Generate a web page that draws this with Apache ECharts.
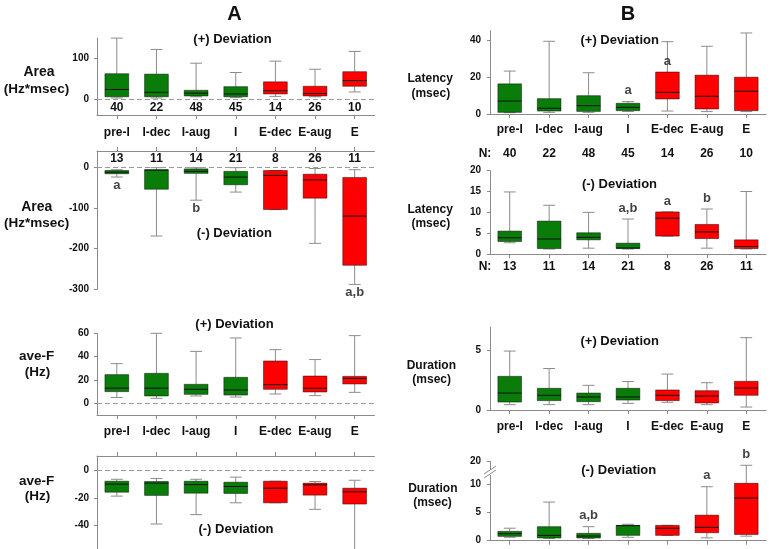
<!DOCTYPE html>
<html lang="en">
<head>
<meta charset="UTF-8">
<title>Deviation box plots</title>
<style>
  body { margin: 0; background: #fff; }
  #main { width: 771px; height: 549px; }
</style>
<script src="https://cdn.jsdelivr.net/npm/echarts@6.0.0/dist/echarts.min.js"></script>
</head>
<body>
<div id="main"></div>
<script>
var categories = ['pre-I', 'I-dec', 'I-aug', 'I', 'E-dec', 'E-aug', 'E'];
var nPos = [40, 22, 48, 45, 14, 26, 10];
var nNeg = [13, 11, 14, 21, 8, 26, 11];

// each row: [min, q1, median, q3, max]
var areaPos = [[2, 5, 23, 62, 150], [2, 5, 16, 61, 122], [5, 7, 14, 21, 88], [3, 5, 12, 30, 65],
               [6, 12, 20, 42, 93], [5, 7, 13, 31, 73], [17, 31, 45, 67, 117]];
var areaNeg = [[-24, -16, -12, -8, -6], [-169, -54, -7, -6, -1], [-81, -15, -10, -4, -1], [-61, -43, -24, -10, -1],
               [-104, -104, -20, -8, -8], [-187, -76, -31, -17, -3], [-288, -241, -120, -25, -6]];
var freqPos = [[5, 10, 13, 24.6, 34], [4.3, 6.3, 13, 25.7, 60], [6.3, 7.7, 12, 16.3, 44.5], [5.4, 7.1, 11.4, 22.3, 56],
               [8, 12, 16, 36.3, 46], [6.6, 9.7, 12.9, 23.4, 37.5], [9.4, 16.6, 21.4, 23.1, 58]];
var freqNeg = [[-18.8, -16, -10.2, -8.1, -6.7], [-38.8, -18.3, -9.5, -8.3, -6.2], [-32.1, -16.7, -10.5, -8.1, -6.7], [-23.6, -16.9, -11.9, -8.8, -5.2],
               [-23.6, -23.6, -13.1, -8.1, -8.1], [-28.3, -18.1, -10.7, -9.5, -8.3], [-58, -24.5, -15.7, -13.1, -7.4]];
var latPos = [[0.7, 0.9, 7, 16.3, 23.2], [0.9, 1.6, 3.1, 8.3, 39.3], [0.9, 1.4, 4.5, 9.9, 22.3], [1.4, 1.8, 3.6, 5.8, 6.7],
              [1.6, 8.1, 11.7, 22.7, 39.1], [1.3, 2.7, 9.6, 21, 36.6], [1.3, 1.8, 12.3, 19.9, 43.8]];
var latNeg = [[2.7, 3, 3.9, 5.5, 14.9], [1.2, 1.3, 3.6, 7.9, 11.7], [1.4, 3.4, 4, 5.1, 10], [1.2, 1.3, 1.45, 2.6, 8.4],
              [4.3, 4.3, 8.6, 10.1, 10.1], [1.4, 3.7, 5.3, 7.1, 10.8], [1.2, 1.3, 1.8, 3.4, 15]];
var durPos = [[0.45, 0.67, 1.43, 2.84, 4.97], [0.45, 0.79, 1.24, 1.83, 3.5], [0.45, 0.7, 1.1, 1.43, 2.08], [0.56, 0.84, 1.1, 1.83, 2.4],
              [0.65, 0.79, 1.24, 1.69, 3.03], [0.45, 0.59, 1.18, 1.63, 2.3], [0.25, 1.24, 1.85, 2.42, 6.1]];
var durNeg = [[0.6, 0.76, 1.24, 1.65, 2.2], [0.4, 0.47, 0.94, 2.47, 6.8], [0.4, 0.47, 0.82, 1.3, 2.47], [0.6, 0.94, 2.65, 2.7, 2.9],
              [0.94, 0.94, 2.2, 2.7, 2.7], [0.5, 1.4, 2.35, 4.5, 9.5], [0.8, 1.1, 7.5, 10.1, 19.3]];

// significance letters: [category, text, where]
var sigAreaNeg = [['pre-I', 'a', 'low'], ['I-aug', 'b', 'low'], ['E', 'a,b', 'low']];
var sigLatPos = [['I', 'a', 'high'], ['E-dec', 'a', 'q3']];
var sigLatNeg = [['I', 'a,b', 'high'], ['E-dec', 'a', 'q3'], ['E-aug', 'b', 'high']];
var sigDurNeg = [['I-aug', 'a,b', 'high'], ['E-aug', 'a', 'high'], ['E', 'b', 'high']];

var FONT = '"Liberation Sans", Arial, sans-serif';
var GREEN = '#0a7c0a', RED = '#ff0000', AXIS = '#8a8a8a';

var panels = [
  {data: areaPos, left: 97, top: 38.1, width: 277.5, height: 76.9, min: -40, max: 150, ticks: [0, 100], pos: 'bottom', zero: true,
   xlab: 'cat', margin: 12, extra: {arr: nPos, inside: true, margin: 1, offset: 0}},
  {data: areaNeg, left: 97, top: 151, width: 277.5, height: 138.3, min: -300, max: 40, ticks: [0, -100, -200, -300], pos: 'top', zero: true,
   xlab: nNeg, inside: true, margin: 2, sig: sigAreaNeg},
  {data: freqPos, left: 97, top: 333.3, width: 277.5, height: 81.7, min: -10, max: 60, ticks: [0, 20, 40, 60], pos: 'bottom', zero: true,
   xlab: 'cat', margin: 11},
  {data: freqNeg, left: 97, top: 456, width: 277.5, height: 97.5, min: -60, max: 10, ticks: [0, -20, -40], pos: 'top', zero: true},
  {data: latPos, left: 490, top: 30.75, width: 276, height: 83.25, min: 0, max: 45, ticks: [0, 20, 40], pos: 'bottom',
   xlab: 'cat', margin: 10, extra: {arr: nPos, inside: false, margin: 10, offset: 24}, sig: sigLatPos},
  {data: latNeg, left: 490, top: 170.7, width: 276, height: 83.3, min: 0, max: 20, ticks: [0, 5, 10, 15, 20], pos: 'bottom',
   xlab: nNeg, margin: 7, sig: sigLatNeg},
  {data: durPos, left: 490, top: 327, width: 276, height: 83, min: 0, max: 7, ticks: [0, 5], pos: 'bottom',
   xlab: 'cat', margin: 10.5},
  {data: durNeg, left: 490, top: 461.3, width: 276, height: 79.4, min: 0, max: 20, ticks: [0, 5, 10, 20], pos: 'bottom',
   sig: sigDurNeg, breaks: [{start: 11.5, end: 18.5, gap: '7%'}]}
];

function renderBox(params, api) {
  var x = api.value(0);
  var lo = api.coord([x, api.value(1)]);
  var q1 = api.coord([x, api.value(2)]);
  var md = api.coord([x, api.value(3)]);
  var q3 = api.coord([x, api.value(4)]);
  var hi = api.coord([x, api.value(5)]);
  var band = api.size([1, 0])[0];
  var bw = band * 0.6, cw = band * 0.3, cx = lo[0];
  var whisk = {stroke: '#8c8c8c', lineWidth: 1};
  return {
    type: 'group',
    children: [
      {type: 'line', shape: {x1: cx, y1: q3[1], x2: cx, y2: hi[1]}, style: whisk},
      {type: 'line', shape: {x1: cx, y1: q1[1], x2: cx, y2: lo[1]}, style: whisk},
      {type: 'line', shape: {x1: cx - cw / 2, y1: hi[1], x2: cx + cw / 2, y2: hi[1]}, style: whisk},
      {type: 'line', shape: {x1: cx - cw / 2, y1: lo[1], x2: cx + cw / 2, y2: lo[1]}, style: whisk},
      {type: 'rect', shape: {x: cx - bw / 2, y: q3[1], width: bw, height: q1[1] - q3[1]},
       style: {fill: x < 4 ? GREEN : RED, stroke: 'rgba(0,0,0,0.45)', lineWidth: 1}},
      {type: 'line', shape: {x1: cx - bw / 2, y1: md[1], x2: cx + bw / 2, y2: md[1]}, style: {stroke: '#111', lineWidth: 1}}
    ]
  };
}

var grids = [], xAxes = [], yAxes = [], series = [];
panels.forEach(function (p, i) {
  grids.push({left: p.left, top: p.top, width: p.width, height: p.height, containLabel: false, outerBoundsMode: 'none'});
  var mainX = xAxes.length;
  var lab = {show: false};
  if (p.xlab === 'cat') {
    lab = {show: true, interval: 0, margin: p.margin, color: '#111', fontFamily: FONT, fontWeight: 'bold', fontSize: 12};
  } else if (p.xlab) {
    var arr = p.xlab;
    lab = {show: true, interval: 0, inside: !!p.inside, margin: p.margin, color: '#111', fontFamily: FONT, fontWeight: 'bold', fontSize: 12,
           formatter: function (v, idx) { return String(arr[idx]); }};
  }
  xAxes.push({
    gridIndex: i, type: 'category', data: categories, position: p.pos, boundaryGap: true,
    axisLine: {show: true, onZero: false, lineStyle: {color: AXIS, width: 1}},
    axisTick: {show: true, interval: 0, alignWithLabel: true, length: 4, lineStyle: {color: AXIS}},
    axisLabel: lab, splitLine: {show: false}
  });
  if (p.extra) {
    var ea = p.extra.arr;
    xAxes.push({
      gridIndex: i, type: 'category', data: categories, position: p.pos, offset: p.extra.offset,
      axisLine: {show: false, onZero: false}, axisTick: {show: false}, splitLine: {show: false},
      axisLabel: {show: true, interval: 0, inside: p.extra.inside, margin: p.extra.margin, color: '#111', fontFamily: FONT,
                  fontWeight: 'bold', fontSize: 12, formatter: function (v, idx) { return String(ea[idx]); }}
    });
  }
  var ya = {
    gridIndex: i, type: 'value', min: p.min, max: p.max,
    axisLine: {show: true, lineStyle: {color: AXIS, width: 1}},
    axisTick: {show: true, length: 3, lineStyle: {color: AXIS}, customValues: p.ticks},
    axisLabel: {show: true, margin: p.left > 400 ? 9 : 8, color: '#111', fontFamily: FONT, fontWeight: 'bold', fontSize: 10,
                customValues: p.ticks},
    splitLine: {show: false}
  };
  if (p.breaks) {
    ya.breaks = p.breaks;
    ya.breakArea = {show: false};
  }
  yAxes.push(ya);

  var s = {
    type: 'custom', xAxisIndex: mainX, yAxisIndex: i,
    renderItem: renderBox,
    encode: {x: 0, y: [1, 2, 3, 4, 5]},
    data: p.data.map(function (d, k) { return [k].concat(d); }),
    z: 3
  };
  if (p.zero) {
    s.markLine = {silent: true, symbol: 'none', label: {show: false}, animation: false,
                  lineStyle: {color: '#9a9a9a', type: [5, 3], width: 1}, data: [{yAxis: 0}]};
  }
  series.push(s);

  if (p.sig) {
    series.push({
      type: 'scatter', xAxisIndex: mainX, yAxisIndex: i, symbolSize: 1, itemStyle: {color: 'rgba(0,0,0,0)'},
      z: 5, silent: true,
      data: p.sig.map(function (sg) {
        var k = categories.indexOf(sg[0]);
        var row = p.data[k];
        var v = sg[2] === 'low' ? row[0] : (sg[2] === 'q3' ? row[3] : row[4]);
        var below = sg[2] === 'low';
        return {value: [k, v], label: {show: true, formatter: sg[1], position: below ? 'bottom' : 'top',
                distance: below ? 1 : 4, color: '#111', fontFamily: FONT, fontWeight: 'bold', fontSize: 13}};
      })
    });
  }
});

function txt(x, y, s, size) {
  return {type: 'text', x: x, y: y, style: {text: s, fill: '#111', font: 'bold ' + size + 'px ' + FONT,
          textAlign: 'center', textVerticalAlign: 'middle'}};
}

var graphics = [
  txt(234.5, 14, 'A', 20), txt(628, 14, 'B', 20),
  txt(232.5, 39.3, '(+) Deviation', 13), txt(234.3, 233.3, '(-) Deviation', 13),
  txt(234.5, 324, '(+) Deviation', 13), txt(236, 529.3, '(-) Deviation', 13),
  txt(619.7, 40.7, '(+) Deviation', 13), txt(619.5, 184.3, '(-) Deviation', 13),
  txt(619.7, 341, '(+) Deviation', 13), txt(618.7, 470.7, '(-) Deviation', 13),
  txt(39, 72.5, 'Area', 14), txt(36.5, 89, '(Hz*msec)', 13.5),
  txt(36.7, 207.3, 'Area', 14), txt(36.7, 223.3, '(Hz*msec)', 13.5),
  txt(36.7, 356.7, 'ave-F', 13.5), txt(37.5, 372.7, '(Hz)', 13.5),
  txt(36.7, 481, 'ave-F', 13.5), txt(37.5, 496, '(Hz)', 13.5),
  txt(430.2, 78.7, 'Latency', 12), txt(430.8, 93.3, '(msec)', 12),
  txt(430.2, 209.3, 'Latency', 12), txt(430.8, 223.3, '(msec)', 12),
  txt(431.3, 365.7, 'Duration', 12), txt(431.7, 380, '(msec)', 12),
  txt(432.8, 488.3, 'Duration', 12), txt(432.5, 502.7, '(msec)', 12),
  txt(485, 153.3, 'N:', 12), txt(485, 266.7, 'N:', 12),
  // axis break marks
  {type: 'polygon', shape: {points: [[484, 474], [496, 466], [496, 470], [484, 478]]}, style: {fill: '#fff'}, z: 100},
  {type: 'line', shape: {x1: 484, y1: 474, x2: 496, y2: 466}, style: {stroke: AXIS, lineWidth: 1}, z: 101},
  {type: 'line', shape: {x1: 484, y1: 478, x2: 496, y2: 470}, style: {stroke: AXIS, lineWidth: 1}, z: 101}
];

var myChart = echarts.init(document.getElementById('main'));
myChart.setOption({
  animation: false,
  backgroundColor: '#fff',
  grid: grids,
  xAxis: xAxes,
  yAxis: yAxes,
  series: series,
  graphic: graphics
});
</script>
</body>
</html>
